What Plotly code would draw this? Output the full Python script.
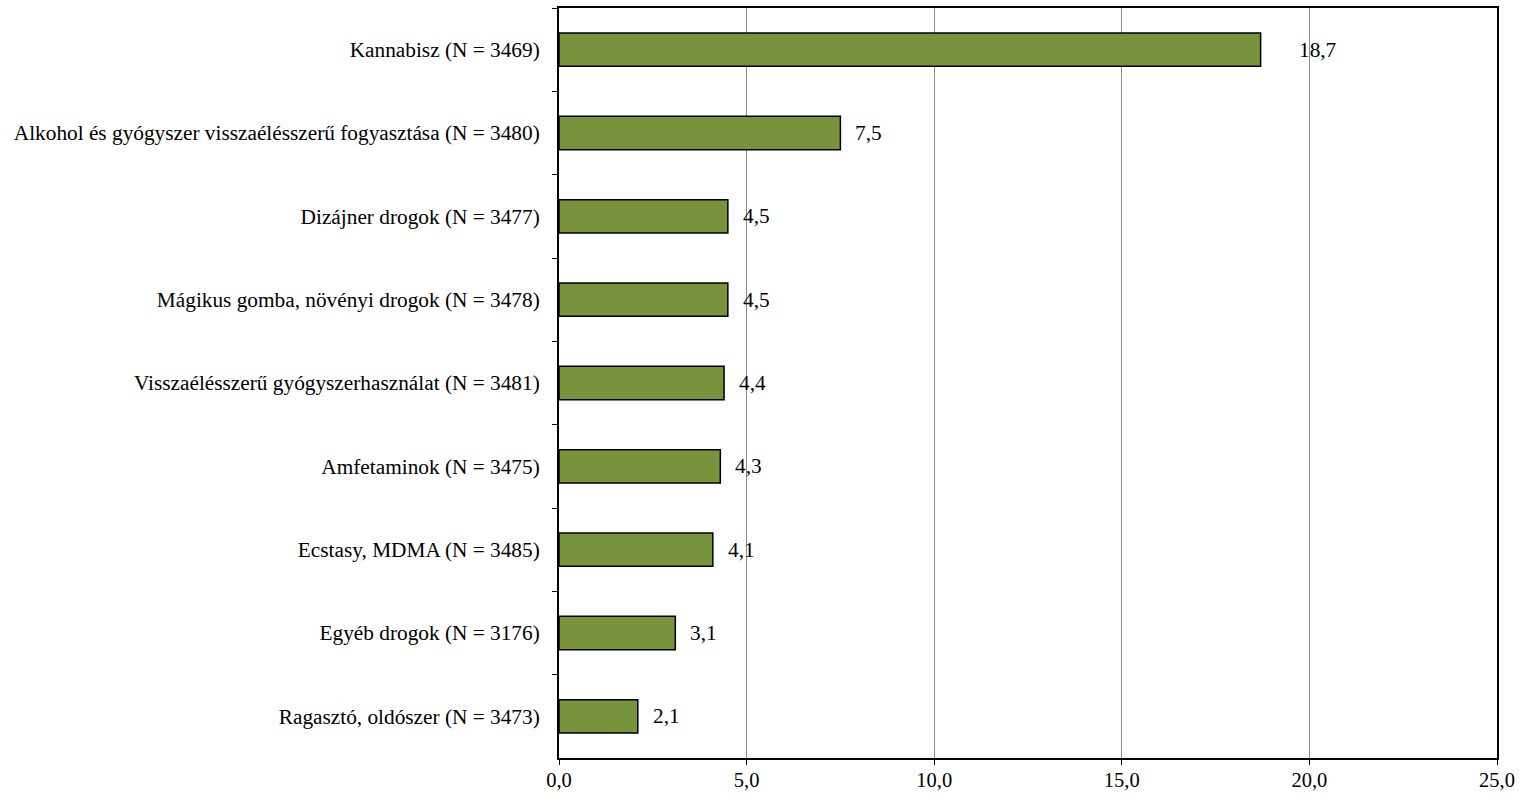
import plotly.graph_objects as go

categories = [
    "Kannabisz (N = 3469)",
    "Alkohol és gyógyszer visszaélésszerű fogyasztása (N = 3480)",
    "Dizájner drogok (N = 3477)",
    "Mágikus gomba, növényi drogok (N = 3478)",
    "Visszaélésszerű gyógyszerhasználat (N = 3481)",
    "Amfetaminok (N = 3475)",
    "Ecstasy, MDMA (N = 3485)",
    "Egyéb drogok (N = 3176)",
    "Ragasztó, oldószer (N = 3473)",
]
values = [18.7, 7.5, 4.5, 4.5, 4.4, 4.3, 4.1, 3.1, 2.1]
value_labels = ["18,7", "7,5", "4,5", "4,5", "4,4", "4,3", "4,1", "3,1", "2,1"]
label_shifts = [36, 13, 13, 13, 13, 13, 13, 13, 13]
x_ticks = [0, 5, 10, 15, 20, 25]

font = "Liberation Serif, Times New Roman, serif"

fig = go.Figure()
fig.add_trace(go.Bar(
    y=categories, x=values, orientation="h",
    marker=dict(color="#77933C", line=dict(color="black", width=1.5)),
    width=0.4,
))
for c, v, t, s in zip(categories, values, value_labels, label_shifts):
    fig.add_annotation(x=v, y=c, text=t, showarrow=False, xanchor="left",
                       xshift=s, font=dict(family=font, size=21.3, color="black"))

fig.update_layout(
    width=1528, height=794,
    margin=dict(l=559, r=31, t=8, b=36),
    plot_bgcolor="white", paper_bgcolor="white",
    separators=", ",
    showlegend=False,
    font=dict(family=font, size=21.3, color="black"),
    bargap=0.6,
)
fig.update_xaxes(
    range=[0, 25], tickvals=x_ticks, tickformat=".1f",
    showgrid=True, gridcolor="#8c8c8c", gridwidth=1,
    showline=True, linecolor="black", linewidth=2, mirror=True,
    ticks="outside", ticklen=5, tickcolor="black",
    ticklabelstandoff=-3, tickfont=dict(size=20.5),
    zeroline=False, fixedrange=True, automargin=False,
)
fig.update_yaxes(
    categoryorder="array", categoryarray=categories, autorange="reversed",
    showline=True, linecolor="black", linewidth=2, mirror=True,
    ticks="outside", ticklen=5, tickcolor="black", tickson="boundaries",
    ticklabelstandoff=13,
    showgrid=False, fixedrange=True, automargin=False,
)
fig.write_html("out.html", config={"displayModeBar": False},
               post_script="document.body.style.margin='0';document.body.style.overflow='hidden';")
